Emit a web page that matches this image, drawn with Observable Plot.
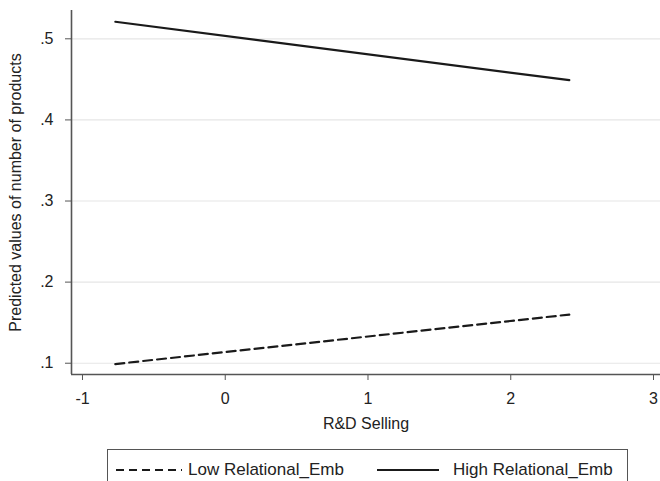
<!DOCTYPE html>
<html>
<head>
<meta charset="utf-8">
<script src="https://cdn.jsdelivr.net/npm/d3@7"></script>
<script src="https://cdn.jsdelivr.net/npm/@observablehq/plot@0.6"></script>
<style>
  html, body { margin: 0; padding: 0; background: #fff; }
  body { width: 660px; height: 481px; overflow: hidden; font-family: "Liberation Sans", Arial, Helvetica, sans-serif; }
  #legend {
    position: relative;
    margin-left: 107px;
    margin-top: 9px;
    width: 521px;
    height: 40px;
    border: 1.5px solid #555;
    box-sizing: border-box;
    font-size: 17px;
    color: #222;
  }
  .item { position: absolute; top: 10px; display: flex; align-items: center; }
  .item svg { display: block; }
</style>
</head>
<body>
<div id="chart"></div>
<div id="legend"></div>
<script>
// Data
const xValues = [-0.77, 2.41];
const lowValues = [0.099, 0.160];
const highValues = [0.521, 0.449];
const seriesNames = ["Low Relational_Emb", "High Relational_Emb"];
const xTicks = [-1, 0, 1, 2, 3];
const xTickLabels = ["-1", "0", "1", "2", "3"];
const yTicks = [0.1, 0.2, 0.3, 0.4, 0.5];
const yTickLabels = [".1", ".2", ".3", ".4", ".5"];
const xLabel = "R&D Selling";
const yLabel = "Predicted values of number of products";

const rows = [];
xValues.forEach((x, i) => {
  rows.push({series: seriesNames[0], x, y: lowValues[i]});
  rows.push({series: seriesNames[1], x, y: highValues[i]});
});

const xDomain = [-1.077, 3.049];
const yDomain = [0.0861, 0.5349];
const font = "Liberation Sans, Arial, Helvetica, sans-serif";

const chart = Plot.plot({
  width: 660,
  height: 440,
  marginLeft: 71,
  marginRight: 0,
  marginTop: 10,
  marginBottom: 66,
  style: {fontFamily: font, fontSize: "16px", color: "#222", background: "#fff"},
  x: {domain: xDomain},
  y: {domain: yDomain},
  marks: [
    Plot.gridY(yTicks, {stroke: "#e6e6e6", strokeOpacity: 1, strokeWidth: 1.2}),
    Plot.axisY(yTicks, {
      tickFormat: d => yTickLabels[yTicks.indexOf(d)],
      tickSize: 6, tickPadding: 12, stroke: "#555", fontSize: 16,
      label: yLabel, labelAnchor: "center", labelArrow: "none", labelOffset: 62
    }),
    Plot.axisX(xTicks, {
      tickFormat: d => xTickLabels[xTicks.indexOf(d)],
      tickSize: 6, tickPadding: 12, stroke: "#555", fontSize: 16,
      label: xLabel, labelAnchor: "center", labelArrow: "none", labelOffset: 54
    }),
    Plot.ruleX([xDomain[0]], {stroke: "#555", strokeWidth: 1.6}),
    Plot.ruleY([yDomain[0]], {stroke: "#555", strokeWidth: 1.6}),
    Plot.line(rows.filter(d => d.series === seriesNames[0]), {
      x: "x", y: "y", stroke: "#1a1a1a", strokeWidth: 2.2, strokeDasharray: "9,5"
    }),
    Plot.line(rows.filter(d => d.series === seriesNames[1]), {
      x: "x", y: "y", stroke: "#1a1a1a", strokeWidth: 2.2
    })
  ]
});
document.getElementById("chart").appendChild(chart);

// Legend
const legend = document.getElementById("legend");
const items = [
  {name: seriesNames[0], dash: "8,5", left: 8, w: 66, gap: 6},
  {name: seriesNames[1], dash: null, left: 269, w: 62, gap: 14}
];
items.forEach(it => {
  const div = document.createElement("div");
  div.className = "item";
  div.style.left = it.left + "px";
  const svg = d3.create("svg").attr("width", it.w).attr("height", 12)
    .style("margin-right", it.gap + "px");
  svg.append("line").attr("x1", 0).attr("x2", it.w).attr("y1", 6).attr("y2", 6)
    .attr("stroke", "#1a1a1a").attr("stroke-width", 1.8)
    .attr("stroke-dasharray", it.dash);
  div.appendChild(svg.node());
  const span = document.createElement("span");
  span.textContent = it.name;
  div.appendChild(span);
  legend.appendChild(div);
});
</script>
</body>
</html>
